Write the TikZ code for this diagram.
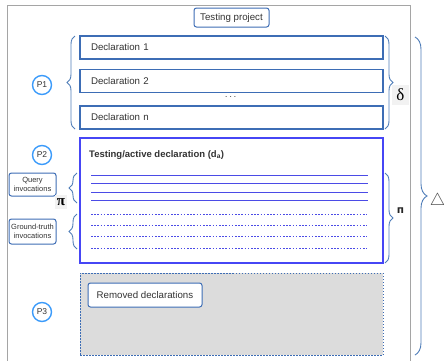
\documentclass[tikz,border=0pt]{standalone}
\usepackage{amsmath}
\usepackage{fontspec}
\setmainfont{Liberation Sans}
\newfontfamily\djv{DejaVu Sans}
\newfontfamily\lserif{Liberation Serif}
\usetikzlibrary{decorations.pathreplacing}
\definecolor{boxblue}{HTML}{3D6DB5}
\definecolor{bracecol}{HTML}{4F7DB8}
\definecolor{activeblue}{HTML}{4646F5}
\definecolor{lineblue}{HTML}{4B4BE6}
\definecolor{circblue}{HTML}{3C9BFA}
\definecolor{txt}{HTML}{333333}
\definecolor{remgray}{HTML}{DCDCDC}
\definecolor{framegray}{HTML}{A5A5A5}
\begin{document}
\begin{tikzpicture}[x=1pt,y=-1pt,
  txtfont/.style={font=\fontsize{9.7}{11.6}\selectfont, text=txt},
  declbox/.style={draw=boxblue, line width=1.1pt, fill=white, txtfont,
    minimum height=23pt, inner xsep=11pt, inner ysep=0pt, text width=281pt, align=left},
  roundbox/.style={draw=boxblue, line width=1pt, fill=white, rounded corners=2.5pt, txtfont,
    inner sep=0pt},
  smallbox/.style={draw=boxblue, line width=1pt, fill=white, rounded corners=2.5pt,
    font=\fontsize{7.5}{9}\selectfont, text=txt, align=center, inner sep=0pt, minimum width=47pt},
  pcirc/.style={circle, draw=circblue, line width=1.4pt, minimum size=19pt, inner sep=0pt,
    font=\fontsize{8.5}{10}\selectfont, text=txt},
  brc/.style={draw=bracecol, line width=0.9pt, decorate, decoration={brace, amplitude=#1}},
  solidln/.style={draw=lineblue, line width=1pt},
  dotln/.style={draw=lineblue, line width=1pt, dash pattern=on 1.6pt off 1.6pt},
]
\useasboundingbox (0,0) rectangle (445,360);
\clip (0,0) rectangle (445,360);
% outer frame
\draw[framegray, line width=1pt] (7,5) rectangle (410,366);
% testing project
\node[roundbox, minimum width=75pt, minimum height=19pt] (tp) at (231.5,17.5) {Testing project};
% declarations
\node[declbox] (d1) at (231.5,47.5) {Declaration 1};
\node[declbox] (d2) at (231.5,81) {Declaration 2};
\node[txtfont, inner sep=0pt] (dots) at (231.5,97) {$\cdots$};
\node[declbox] (dn) at (231.5,117.5) {Declaration n};
% P circles
\node[pcirc] (p1) at (42,85) {P1};
\node[pcirc] (p2) at (42,155) {P2};
\node[pcirc] (p3) at (42,312) {P3};
% active declaration box
\node[draw=activeblue, line width=2pt, fill=white, minimum width=303pt, minimum height=125pt, inner sep=0pt] (act) at (231.5,200.5) {};
\node[anchor=west, txtfont, font=\fontsize{9.5}{11}\selectfont\bfseries, text=txt, inner sep=0pt] (acttitle) at (89,155) {Testing/active declaration (d\textsubscript{a})};
\foreach \yy in {175,183.5,192,200.7} \draw[solidln] (91,\yy) -- (368,\yy);
\foreach \yy in {214,225.3,236.7,248} \draw[dotln] (91,\yy) -- (367,\yy);
% removed region
\node[draw=boxblue, line width=1pt, dash pattern=on 1.5pt off 1.5pt, fill=remgray, minimum width=303pt, minimum height=82pt, inner sep=0pt] (rem) at (231.5,314) {};
\node[roundbox, minimum width=114pt, minimum height=24pt] (rd) at (145,295) {Removed declarations};
% left boxes
\node[smallbox, minimum height=23pt] (qi) at (32.5,184.5) {Query\\invocations};
\node[smallbox, minimum height=25pt] (gt) at (32.5,231.5) {Ground-truth\\invocations};
% braces
\draw[brc=8pt] (75,129) -- (75,36);
\draw[brc=8pt] (77,203) -- (77,173);
\draw[brc=8pt] (77,249) -- (77,214);
\draw[brc=8pt] (385,36) -- (385,129);
\draw[brc=8pt] (385,173) -- (385,263);
\draw[brc=12pt] (415,37) -- (415,355);
% labels
\node[fill=gray!10, minimum width=17pt, minimum height=20pt, inner sep=0pt, font=\lserif\fontsize{17}{18}\selectfont, text=black] (delta) at (400.5,95) {δ};
\node[fill=gray!10, minimum width=12pt, minimum height=14pt, inner sep=0pt, font=\lserif\fontsize{15}{16}\selectfont\bfseries, text=black] (pi) at (61,202) {π};
\node[inner sep=0pt, font=\djv\fontsize{10.5}{12}\selectfont\bfseries, text=black!85] (bigpi) at (400.5,210.5) {п};
\node[inner sep=0pt, font=\fontsize{17}{18}\selectfont, text=black!70] (tri) at (437.5,201) {$\triangle$};
\end{tikzpicture}
\end{document}
